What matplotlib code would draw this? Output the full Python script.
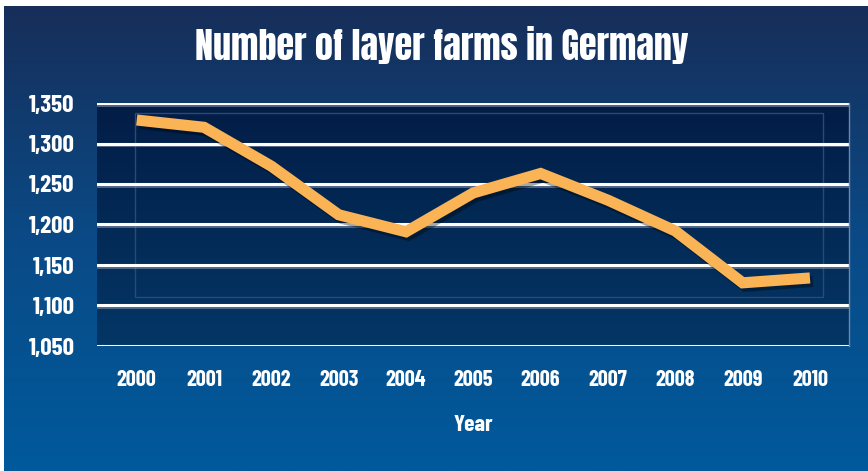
import numpy as np
import matplotlib.pyplot as plt
import matplotlib.patheffects as pe
from matplotlib.colors import LinearSegmentedColormap
from matplotlib.patches import Rectangle

years = [2000, 2001, 2002, 2003, 2004, 2005, 2006, 2007, 2008, 2009, 2010]
farms = [1329, 1320, 1272, 1212, 1191, 1239, 1263, 1230, 1192, 1128, 1134]
y_ticks = [1050, 1100, 1150, 1200, 1250, 1300, 1350]

title = 'Number of layer farms in Germany'
title_font = ['Anton', 'DejaVu Sans']
label_font = ['Barlow Condensed', 'Roboto Condensed', 'DejaVu Sans']

W, H = 868, 471
fig = plt.figure(figsize=(W / 100, H / 100), dpi=100, facecolor='white')

# page background: vertical gradient, white strip at top and left
bg = fig.add_axes([4 / W, 0, 1 - 4 / W, (H - 6) / H])
bg_cmap = LinearSegmentedColormap.from_list('bg', ['#172e59', '#0a4a86', '#005a9c'])
bg.imshow(np.linspace(0, 1, 256).reshape(-1, 1), cmap=bg_cmap, aspect='auto',
          extent=[0, 1, 0, 1], origin='upper')
bg.set_axis_off()

ax = fig.add_axes([97 / W, (H - 346) / H, 752 / W, 243 / H])
ax.set_xlim(1999.41, 2010.58)
ax.set_ylim(1050, 1350)

# plot area gradient
pa_cmap = LinearSegmentedColormap.from_list('pa', ['#021d46', '#043666'])
ax.imshow(np.linspace(0, 1, 256).reshape(-1, 1), cmap=pa_cmap, aspect='auto',
          extent=[1999.41, 2010.58, 1050, 1350], origin='upper', zorder=0)

ax.add_patch(Rectangle((0.0505, 0.2016), 0.9145, 0.7574, transform=ax.transAxes,
                       fill=False, edgecolor='#2b4a72', lw=1, zorder=1))

grid_fx = [pe.SimpleLineShadow(offset=(0, -1.2), shadow_color='#7f8ea6', alpha=0.6),
           pe.Normal()]
for v in y_ticks:
    ax.axhline(v, color='white', lw=2.2, zorder=2, path_effects=grid_fx)

ax.plot(years, farms, color='#fbb455', lw=8, solid_joinstyle='miter',
        solid_capstyle='butt', zorder=3,
        path_effects=[pe.SimpleLineShadow(offset=(2, -2.5), shadow_color='black', alpha=0.35),
                      pe.Normal()])

for s in ['top', 'left', 'bottom']:
    ax.spines[s].set_visible(False)
ax.spines['right'].set_color('#6d88aa')
ax.spines['right'].set_linewidth(1)

ax.set_xticks(years)
ax.set_xticklabels([str(y) for y in years])
ax.set_yticks(y_ticks)
ax.set_yticklabels([f'{v:,}' for v in y_ticks])
ax.tick_params(length=0, colors='white')
ax.tick_params(axis='x', pad=17)
ax.tick_params(axis='y', pad=16)
for lbl in ax.get_xticklabels():
    lbl.set_family(label_font)
    lbl.set_fontweight('bold')
    lbl.set_fontsize(16)
for lbl in ax.get_yticklabels():
    lbl.set_family(label_font)
    lbl.set_fontweight('bold')
    lbl.set_fontsize(18)

ax.set_xlabel('Year', color='white', family=label_font, fontweight='bold',
              fontsize=17, labelpad=18)

fig.text(0.509, 0.905, title, ha='center', va='center', color='white',
         family=title_font, fontsize=26)

fig.savefig('out.png', dpi=100, facecolor=fig.get_facecolor())
